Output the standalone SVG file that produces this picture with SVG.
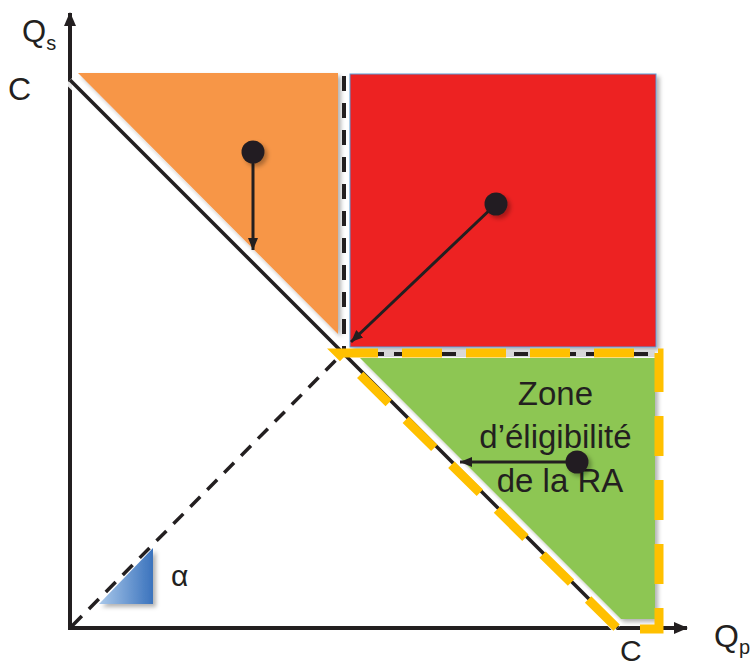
<svg xmlns="http://www.w3.org/2000/svg" width="756" height="666" viewBox="0 0 756 666">
<style>
  .lbl{font-family:"Liberation Sans",Arial,sans-serif;fill:#231f20}
  .axis{stroke:#231f20;stroke-width:4;fill:none}
  .conn{stroke:#231f20;stroke-width:3;fill:none}
  .dot{fill:#231f20}
</style>
<defs>
  <filter id="sh" x="-10%" y="-10%" width="130%" height="130%">
    <feDropShadow dx="3" dy="3" stdDeviation="2" flood-color="#000" flood-opacity="0.3"/>
  </filter>
  <linearGradient id="blue" x1="0" y1="0" x2="1" y2="0">
    <stop offset="0" stop-color="#a9c8ea"/>
    <stop offset="1" stop-color="#3b73bd"/>
  </linearGradient>
  <marker id="ah" viewBox="0 0 12 10" refX="12" refY="5" markerWidth="12" markerHeight="10" markerUnits="userSpaceOnUse" orient="auto">
    <path d="M0 0 L12 5 L0 10 Z" fill="#231f20"/>
  </marker>
  <marker id="axh" viewBox="0 0 14 12" refX="13" refY="6" markerWidth="14" markerHeight="12" markerUnits="userSpaceOnUse" orient="auto">
    <path d="M0 0 L14 6 L0 12 Z" fill="#231f20"/>
  </marker>
</defs>
<rect width="756" height="666" fill="#fff"/>

<g id="orange-zone">
  <polygon points="78,73 338,73 338,334" fill="#f79646" filter="url(#sh)"/>
</g>
<g id="red-zone">
  <rect x="350" y="74" width="306" height="273" fill="#ed2024" stroke="#5b9bd5" stroke-width="1" filter="url(#sh)"/>
</g>
<g id="green-zone">
  <polygon points="360,358 655,358 655,619 621,619" fill="#8dc653" filter="url(#sh)"/>
</g>

<g id="axes">
  <line class="axis" x1="70" y1="630" x2="70" y2="13" marker-end="url(#axh)"/>
  <line class="axis" x1="68" y1="628" x2="687" y2="628" marker-end="url(#axh)"/>
  <text class="lbl" x="22" y="42" font-size="31">Q<tspan font-size="20" dy="8">s</tspan></text>
  <text class="lbl" x="8" y="100" font-size="32">C</text>
  <text class="lbl" x="620" y="661" font-size="30">C</text>
  <text class="lbl" x="714" y="647" font-size="32">Q<tspan font-size="20" dy="7">p</tspan></text>
</g>

<g id="lines">
  <line x1="70" y1="80" x2="618" y2="628" stroke="#fff" stroke-width="12" opacity="0.9"/>
  <line x1="70" y1="80" x2="618" y2="628" stroke="#231f20" stroke-width="3.5"/>
  <line x1="344" y1="76" x2="344" y2="350" stroke="#231f20" stroke-width="4" stroke-dasharray="15 12"/>
  <line x1="72" y1="626" x2="342" y2="354" stroke="#231f20" stroke-width="3.5" stroke-dasharray="14 10"/>
  <line x1="346" y1="354" x2="655" y2="354" stroke="#d8d8d8" stroke-width="6"/>
  <line x1="346" y1="354" x2="655" y2="354" stroke="#231f20" stroke-width="4" stroke-dasharray="14 10"/>
</g>

<g id="eligibility-border">
  <path d="M338 353 H659 V629 H618 Z" fill="none" stroke="#ffc000" stroke-width="9" stroke-dasharray="40 24" stroke-linejoin="miter"/>
</g>

<g id="alpha">
  <polygon points="99,604 153,604 153,548" fill="url(#blue)" filter="url(#sh)"/>
  <text class="lbl" x="171" y="586" font-size="30">α</text>
</g>

<g id="zone-label">
  <text class="lbl" font-size="33" text-anchor="middle">
    <tspan x="560" y="405">Zone</tspan>
    <tspan x="560" y="448">d’éligibilité</tspan>
    <tspan x="560" y="492">de la RA</tspan>
  </text>
</g>

<g id="connectors">
  <line class="conn" x1="253" y1="152" x2="253" y2="250" marker-end="url(#ah)"/>
  <line class="conn" x1="496" y1="204" x2="351" y2="342" marker-end="url(#ah)"/>
  <line class="conn" x1="577" y1="462" x2="460" y2="462" marker-end="url(#ah)"/>
</g>

<g id="dots" filter="url(#sh)">
  <circle class="dot" cx="253" cy="152" r="11.5"/>
  <circle class="dot" cx="496" cy="204" r="11.5"/>
  <circle class="dot" cx="577" cy="462" r="11.5"/>
</g>
</svg>
